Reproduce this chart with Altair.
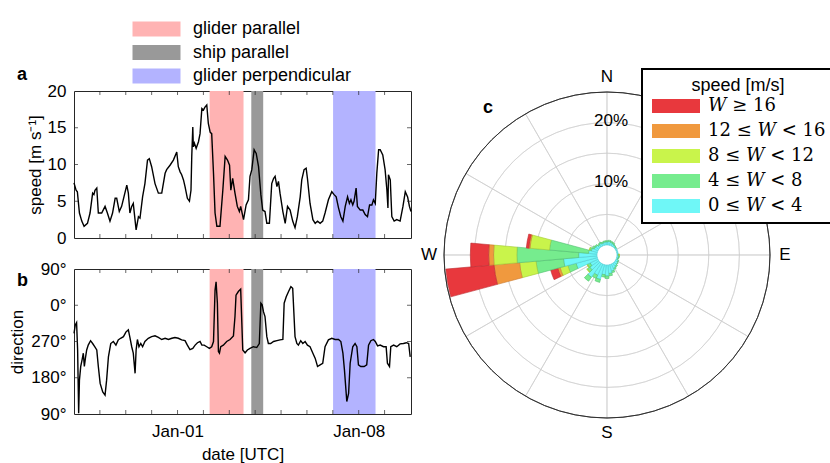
import altair as alt
import pandas as pd
from datetime import datetime, timedelta

SANS = "Liberation Sans, Arial, Helvetica, sans-serif"
SERIF = "DejaVu Serif, Liberation Serif, serif"
FRAME = "#262626"
GRID = "#cdcdcd"

START = datetime(2019, 12, 28)

# ---- wind speed time series (days since 2019-12-28 00:00 UTC, m/s) ----
speed_days = [0.00, 0.08, 0.13, 0.21, 0.30, 0.39, 0.52, 0.62, 0.72, 0.77,
              0.81, 0.88, 0.94, 1.07, 1.20, 1.29, 1.39, 1.49, 1.59, 1.65,
              1.75, 1.84, 1.93, 2.04, 2.10, 2.16, 2.23, 2.29, 2.40, 2.49,
              2.55, 2.65, 2.74, 2.84, 2.91, 3.00, 3.13, 3.26, 3.39, 3.52,
              3.58, 3.71, 3.84, 3.97, 4.03, 4.10, 4.16, 4.23, 4.29, 4.38,
              4.46, 4.52, 4.55, 4.59, 4.61, 4.65, 4.72, 4.81, 4.87, 4.94,
              5.00, 5.06, 5.13, 5.19, 5.26, 5.32, 5.39, 5.45, 5.52, 5.64,
              5.75, 5.84, 5.93, 6.01, 6.06, 6.13, 6.22, 6.31, 6.39, 6.44,
              6.55, 6.65, 6.74, 6.80, 6.87, 6.96, 7.04, 7.13, 7.22, 7.29,
              7.38, 7.45, 7.55, 7.64, 7.71, 7.77, 7.84, 7.90, 7.96, 8.07,
              8.16, 8.25, 8.35, 8.45, 8.54, 8.63, 8.74, 8.80, 8.89, 8.97,
              9.02, 9.12, 9.23, 9.32, 9.41, 9.51, 9.61, 9.70, 9.83, 9.96,
              10.05, 10.13, 10.22, 10.31, 10.39, 10.48, 10.57, 10.64, 10.70, 10.77,
              10.82, 10.90, 10.95, 11.06, 11.16, 11.25, 11.34, 11.42, 11.51, 11.57,
              11.64, 11.70, 11.77, 11.83, 11.93, 12.02, 12.09, 12.13, 12.15, 12.22,
              12.28, 12.37, 12.47, 12.60, 12.71, 12.80, 12.89, 12.96, 13.02]
speed_ms = [7.5, 6.5, 6.3, 3.4, 2.3, 1.6, 2.0, 3.4, 6.1, 5.9,
            6.5, 6.8, 3.4, 3.4, 4.3, 3.4, 2.3, 3.4, 5.4, 5.4,
            3.6, 4.3, 5.6, 7.2, 6.1, 3.4, 4.3, 4.7, 1.1, 2.9,
            2.7, 5.6, 7.4, 10.6, 10.8, 9.7, 7.4, 6.1, 6.1, 8.8,
            9.3, 9.9, 10.6, 11.7, 9.7, 9.0, 8.6, 7.9, 7.0, 5.4,
            5.0, 6.5, 11.1, 15.1, 12.4, 12.9, 12.2, 13.1, 14.2, 17.6,
            17.4, 17.8, 18.1, 15.6, 14.4, 14.2, 8.8, 3.4, 1.6, 1.6,
            6.5, 11.1, 10.6, 9.9, 6.5, 8.1, 6.1, 4.3, 3.6, 4.3,
            2.5, 4.5, 5.2, 8.4, 9.3, 12.0, 11.5, 9.7, 5.9, 3.8,
            3.6, 2.0, 2.0, 7.4, 8.1, 8.4, 7.0, 7.7, 6.1, 3.6,
            2.0, 4.3, 3.8, 2.3, 1.4, 2.9, 5.6, 7.9, 9.3, 9.5,
            8.1, 4.7, 2.5, 2.0, 2.3, 2.0, 2.3, 3.4, 5.2, 6.3,
            5.9, 5.6, 4.1, 2.9, 2.3, 4.3, 5.6, 4.7, 5.2, 4.5,
            5.0, 6.8, 4.3, 3.8, 3.8, 3.2, 2.9, 4.5, 4.5, 5.2,
            4.7, 8.8, 12.0, 12.0, 11.3, 9.3, 6.5, 4.1, 8.6, 7.9,
            2.9, 2.3, 2.5, 2.3, 4.3, 6.3, 5.6, 4.3, 3.6]

# ---- wind direction time series (days, degrees) ----
dir_days = [0.00, 0.05, 0.10, 0.14, 0.18, 0.21, 0.26, 0.31, 0.36, 0.40,
            0.44, 0.49, 0.55, 0.64, 0.72, 0.80, 0.88, 0.94, 1.01, 1.11,
            1.20, 1.26, 1.33, 1.42, 1.52, 1.62, 1.71, 1.80, 1.91, 2.01,
            2.10, 2.16, 2.23, 2.29, 2.36, 2.40, 2.45, 2.51, 2.58, 2.65,
            2.74, 2.87, 3.00, 3.13, 3.26, 3.39, 3.52, 3.65, 3.78, 3.90,
            4.03, 4.16, 4.29, 4.38, 4.48, 4.59, 4.68, 4.77, 4.87, 4.94,
            5.03, 5.13, 5.23, 5.32, 5.39, 5.45, 5.49, 5.54, 5.58, 5.62,
            5.67, 5.77, 5.90, 6.03, 6.16, 6.22, 6.26, 6.35, 6.44, 6.52,
            6.61, 6.70, 6.80, 6.93, 7.06, 7.16, 7.22, 7.27, 7.32, 7.38,
            7.45, 7.51, 7.60, 7.71, 7.84, 7.96, 8.07, 8.12, 8.20, 8.29,
            8.38, 8.45, 8.54, 8.61, 8.67, 8.76, 8.84, 8.93, 9.02, 9.12,
            9.23, 9.32, 9.41, 9.51, 9.61, 9.70, 9.83, 9.96, 10.09, 10.22,
            10.31, 10.39, 10.45, 10.54, 10.61, 10.67, 10.77, 10.86, 10.93, 10.99,
            11.08, 11.21, 11.31, 11.38, 11.47, 11.57, 11.64, 11.73, 11.83, 11.96,
            12.06, 12.11, 12.19, 12.24, 12.35, 12.47, 12.60, 12.73, 12.84, 12.93,
            12.99]
dir_deg = [290, 311, 317, 249, 92, 174, 208, 224, 241, 208,
           228, 249, 261, 272, 265, 257, 249, 208, 166, 145,
           137, 174, 232, 265, 270, 261, 274, 278, 282, 294,
           299, 280, 257, 241, 191, 249, 275, 257, 265, 257,
           270, 278, 282, 284, 280, 275, 278, 275, 278, 280,
           278, 274, 272, 261, 250, 253, 261, 267, 270, 261,
           261, 257, 253, 257, 270, 38, 58, 5, 245, 241,
           257, 261, 270, 275, 284, 332, 25, 34, 40, 249,
           242, 249, 253, 257, 255, 265, 5, 1, 344, 332,
           282, 265, 265, 270, 272, 274, 275, 5, 21, 34,
           46, 42, 282, 265, 261, 272, 265, 270, 261, 257,
           241, 228, 208, 212, 216, 257, 274, 278, 275, 275,
           270, 241, 199, 121, 141, 216, 257, 265, 257, 212,
           208, 208, 212, 261, 272, 275, 270, 259, 261, 257,
           257, 216, 208, 257, 261, 257, 264, 265, 267, 265,
           232]

# ---- sampling periods ----
band_names = ["glider parallel", "ship parallel", "glider perpendicular"]
band_start_days = [5.24, 6.85, 10.01]
band_end_days = [6.55, 7.31, 11.65]
band_colors = ["#ffb3b3", "#999999", "#b3b3ff"]

tick_days = list(range(1, 13))  # daily ticks, Dec 29 .. Jan 9

# ---- wind rose: frequency [%] per 10-degree sector and speed class ----
rose_dirs = list(range(0, 360, 10))
w_0_4 = [0.5, 0.6, 0.5, 0.4, 0.3, 0.2, 0.2, 0.2, 0.2, 0.2,
         0.3, 0.2, 0.4, 0.5, 0.6, 0.8, 1.1, 1.4, 1.8, 1.6,
         2.5, 2.0, 2.8, 1.8, 1.4, 3.6, 5.5, 3.0, 1.4, 1.0,
         0.7, 0.6, 0.4, 0.5, 0.4, 0.5]
w_4_8 = [0.2, 0.2, 0.2, 0.2, 0.1, 0.1, 0.0, 0.0, 0.0, 0.1,
         0.1, 0.1, 0.1, 0.1, 0.2, 0.2, 0.3, 0.4, 0.4, 0.4,
         0.5, 0.6, 0.8, 0.5, 0.5, 1.4, 4.5, 10.1, 6.4, 0.3,
         0.3, 0.2, 0.2, 0.2, 0.2, 0.2]
w_8_12 = [0, 0, 0, 0, 0, 0, 0, 0, 0, 0.1,
          0, 0, 0, 0, 0, 0, 0, 0, 0, 0,
          0, 0, 0, 0.1, 0.1, 1.3, 2.7, 3.8, 3.2, 0.1,
          0, 0, 0, 0, 0, 0]
w_12_16 = [0, 0, 0, 0, 0, 0, 0, 0, 0, 0,
           0, 0, 0, 0, 0, 0, 0, 0, 0, 0,
           0, 0, 0, 0, 0, 0.4, 4.2, 0.8, 0.2, 0,
           0, 0, 0, 0, 0, 0]
w_16_up = [0, 0, 0, 0, 0, 0, 0, 0, 0, 0,
           0, 0, 0, 0, 0, 0, 0, 0, 0, 0,
           0, 0, 0, 0, 0, 1.2, 7.9, 3.0, 0.4, 0,
           0, 0, 0, 0, 0, 0]

class_labels = ["0 ≤ 𝑊 < 4", "4 ≤ 𝑊 < 8", "8 ≤ 𝑊 < 12", "12 ≤ 𝑊 < 16", "𝑊 ≥ 16"]
class_values = [w_0_4, w_4_8, w_8_12, w_12_16, w_16_up]
class_fill = ["#6ff7f7", "#76ec8e", "#c9f44b", "#f0993e", "#e8383d"]
class_edge = ["#52cbd2", "#50bd70", "#a2c936", "#c97a30", "#bc2c30"]

ring_pcts = [5, 10, 15, 20]
outer_pct = [25]
spoke_angles = list(range(0, 360, 30))
compass_angles = [0, 90, 180, 270]
compass_labels = ["N", "E", "S", "W"]
pct_label_values = [10, 20]
pct_labels = ["10%", "20%"]


def iso(d):
    return (START + timedelta(days=d)).strftime("%Y-%m-%dT%H:%M:%SZ")


speed_df = pd.DataFrame({"t": [iso(d) for d in speed_days], "speed": speed_ms})
dir_df = pd.DataFrame({"t": [iso(d) for d in dir_days],
                       "dir": [v if v <= 90 else v - 360 for v in dir_deg]})
band_df = pd.DataFrame({"name": band_names,
                        "t0": [iso(d) for d in band_start_days],
                        "t1": [iso(d) for d in band_end_days]})
tick_df = pd.DataFrame({"t": [iso(d) for d in tick_days]})

t_start = alt.DateTime(year=2019, month=12, date=28, utc=True)
t_end = alt.DateTime(year=2020, month=1, date=10, hours=0, minutes=30, utc=True)
x_scale = alt.Scale(type="utc", domain=[t_start, t_end])

# wide swatches: the path starts at the entry origin and runs 48 px to the right
band_legend = alt.Legend(
    orient="none", legendX=57, legendY=-71, title=None,
    symbolType="M-1,-1H5.4V1H-1Z", symbolSize=225, symbolStrokeWidth=0,
    symbolOpacity=1, labelFont=SANS, labelFontSize=18, labelColor="black",
    labelOffset=44, rowPadding=5.5, padding=0, labelLimit=300,
)


def ts_panel(df, field, y_dom, y_axis, y_tick_vals, x_axis, height, legend, title):
    y_scale = alt.Scale(domain=y_dom, nice=False, zero=False)
    bands = alt.Chart(band_df).mark_rect().encode(
        x=alt.X("t0:T", scale=x_scale, axis=x_axis),
        x2="t1:T",
        color=alt.Color("name:N",
                        scale=alt.Scale(domain=band_names, range=band_colors),
                        legend=legend),
    )
    line = alt.Chart(df).mark_line(color="black", strokeWidth=1.4).encode(
        x=alt.X("t:T", scale=x_scale, axis=x_axis),
        y=alt.Y(f"{field}:Q", scale=y_scale, axis=y_axis),
    )
    tick_style = dict(size=8, thickness=1, color=FRAME, clip=True)
    top_ticks = alt.Chart(tick_df).mark_tick(orient="vertical", **tick_style).encode(
        x=alt.X("t:T", scale=x_scale, axis=x_axis),
        y=alt.YDatum(y_dom[1], scale=y_scale, axis=y_axis))
    bottom_ticks = alt.Chart(tick_df).mark_tick(orient="vertical", **tick_style).encode(
        x=alt.X("t:T", scale=x_scale, axis=x_axis),
        y=alt.YDatum(y_dom[0], scale=y_scale, axis=y_axis))
    ytick_df = pd.DataFrame({"v": y_tick_vals})
    left_ticks = alt.Chart(ytick_df).mark_tick(orient="horizontal", **tick_style).encode(
        x=alt.XDatum(t_start, scale=x_scale, axis=x_axis),
        y=alt.Y("v:Q", scale=y_scale, axis=y_axis))
    right_ticks = alt.Chart(ytick_df).mark_tick(orient="horizontal", **tick_style).encode(
        x=alt.XDatum(t_end, scale=x_scale, axis=x_axis),
        y=alt.Y("v:Q", scale=y_scale, axis=y_axis))
    return alt.layer(bands, line, top_ticks, bottom_ticks, left_ticks, right_ticks).properties(
        width=337, height=height, title=title,
        view=alt.ViewBackground(stroke=FRAME, strokeWidth=1),
    )


def panel_title(letter, dx, dy):
    return alt.TitleParams(text=letter, anchor="start", frame="group", orient="top",
                           baseline="alphabetic", offset=0, dx=dx, dy=dy,
                           font=SANS, fontSize=18, fontWeight="bold", color="black")


axis_common = dict(domain=False, ticks=False, grid=False, labelFont=SANS, titleFont=SANS,
                   labelFontSize=17, titleFontSize=17, titleFontWeight="normal",
                   labelColor="black", titleColor="black", labelFlush=False,
                   labelOverlap=False, tickCount=10)

speed_axis = alt.Axis(values=[0, 5, 10, 15, 20], title="speed [m s⁻¹]",
                      labelPadding=8, titlePadding=3, **axis_common)
dir_axis = alt.Axis(values=[-270, -180, -90, 0, 90], title="direction",
                    labelExpr="((datum.value % 360) + 360) % 360 + '°'",
                    labelPadding=8, titlePadding=4, **axis_common)
date_axis = alt.Axis(values=[alt.DateTime(year=2020, month=1, date=1, utc=True),
                             alt.DateTime(year=2020, month=1, date=8, utc=True)],
                     labelExpr="utcFormat(datum.value, '%b-%d')", title="date [UTC]",
                     labelPadding=9, titlePadding=7, **axis_common)

panel_a = ts_panel(speed_df, "speed", [0, 20], speed_axis, [5, 10, 15], None, 147,
                   band_legend, panel_title("a", -57, 78))
panel_b = ts_panel(dir_df, "dir", [-270, 90], dir_axis, [-180, -90, 0], date_axis, 145,
                   None, panel_title("b", -57, 44))

# ---- wind rose ----
rose_rows = []
for i, d in enumerate(rose_dirs):
    base = 0.0
    for lab, vals in zip(class_labels, class_values):
        v = vals[i]
        if v > 0:
            rose_rows.append({"t0": d - 5, "t1": d + 5, "r0": base, "r1": base + v, "cls": lab})
        base += v
rose_df = pd.DataFrame(rose_rows)

theta_scale = alt.Scale(domain=[0, 360], range=[0, 6.283185307179586])
radius_scale = alt.Scale(type="linear", domain=[0, 25], range=[10, 163], zero=False)

ring_df = pd.DataFrame({"p": ring_pcts, "a0": 0, "a1": 360})
outer_df = pd.DataFrame({"p": outer_pct, "a0": 0, "a1": 360})
spoke_df = pd.DataFrame({"a": spoke_angles, "p0": 0, "p1": outer_pct[0]})
compass_df = pd.DataFrame({"a": compass_angles, "lab": compass_labels})
pct_df = pd.DataFrame({"a": 0, "p": pct_label_values, "lab": pct_labels})

# circles: inner and outer radius coincide so only the ring itself is stroked
rings = alt.Chart(ring_df).mark_arc(filled=False, stroke=GRID, strokeWidth=0.6).encode(
    theta=alt.Theta("a0:Q", scale=theta_scale), theta2="a1:Q",
    radius=alt.Radius("p:Q", scale=radius_scale), radius2="p:Q")
spokes = alt.Chart(spoke_df).mark_arc(filled=False, stroke=GRID, strokeWidth=0.7).encode(
    theta=alt.Theta("a:Q", scale=theta_scale), theta2="a:Q",
    radius=alt.Radius("p1:Q", scale=radius_scale), radius2="p0:Q")

legend_order = class_labels[::-1]
rose_legend = alt.Legend(
    orient="none", legendX=199, legendY=-22, title="speed [m/s]",
    titleFont=SANS, titleFontSize=18, titleFontWeight="normal", titleColor="black",
    titleAnchor="middle", titleAlign="center", titlePadding=2,
    symbolType="M-1,-1H5.857V1H-1Z", symbolSize=196, symbolStrokeWidth=0,
    symbolOpacity=1, labelFont=SERIF, labelFontSize=18, labelColor="black",
    labelOffset=40, rowPadding=7, padding=8, labelLimit=300,
    strokeColor="black", fillColor="white",
)
bars = alt.Chart(rose_df).mark_arc(strokeWidth=0.6).encode(
    theta=alt.Theta("t0:Q", scale=theta_scale), theta2="t1:Q",
    radius=alt.Radius("r1:Q", scale=radius_scale), radius2="r0:Q",
    color=alt.Color("cls:N", scale=alt.Scale(domain=legend_order, range=class_fill[::-1]),
                    legend=rose_legend),
    stroke=alt.Stroke("cls:N", scale=alt.Scale(domain=class_labels, range=class_edge),
                      legend=None),
)
outer = alt.Chart(outer_df).mark_arc(filled=False, stroke=FRAME, strokeWidth=0.8).encode(
    theta=alt.Theta("a0:Q", scale=theta_scale), theta2="a1:Q",
    radius=alt.Radius("p:Q", scale=radius_scale), radius2="p:Q")
compass = alt.Chart(compass_df).mark_text(radius=178, font=SANS, fontSize=17, color="black").encode(
    theta=alt.Theta("a:Q", scale=theta_scale, stack=False), text="lab:N")
pct_text = alt.Chart(pct_df).mark_text(font=SANS, fontSize=17, color="black", dx=4, dy=-2).encode(
    theta=alt.Theta("a:Q", scale=theta_scale, stack=False),
    radius=alt.Radius("p:Q", scale=radius_scale), text="lab:N")

rose = alt.layer(rings, spokes, bars, outer, compass, pct_text).properties(
    width=328, height=328, title=panel_title("c", 40, 63),
)

time_panels = alt.vconcat(panel_a, panel_b, spacing=31, bounds="flush").resolve_scale(
    x="independent", y="independent", color="independent",
)

chart = alt.hconcat(time_panels, rose, spacing=5).resolve_scale(
    color="independent", stroke="independent",
).properties(
    autosize=alt.AutoSizeParams(type="none"),
    padding={"left": 74, "top": 91, "right": 756, "bottom": 372},
).configure(font=SANS).configure_view(strokeWidth=0).configure_legend(strokeWidth=2)

chart.save("out.html", embed_options={"renderer": "svg", "actions": False})
